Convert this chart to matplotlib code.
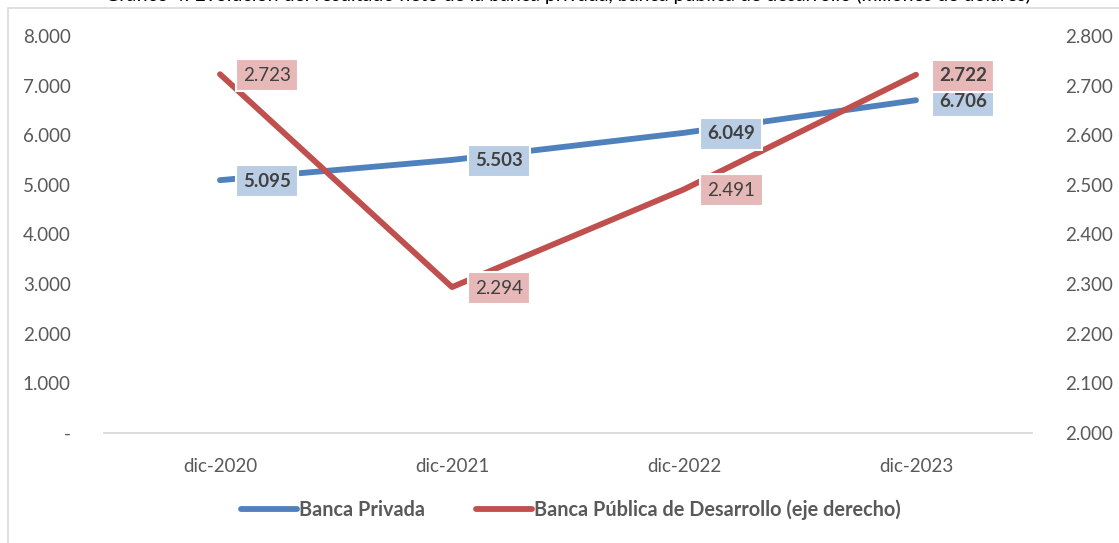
import matplotlib.pyplot as plt
from matplotlib.patches import Rectangle
from matplotlib.ticker import FuncFormatter

plt.rcParams["font.family"] = ["Lato", "DejaVu Sans"]

# Data
periods = ["dic-2020", "dic-2021", "dic-2022", "dic-2023"]
banca_privada = [5095, 5503, 6049, 6706]
banca_publica = [2723, 2294, 2491, 2722]
publica_bold = [False, False, False, True]

BLUE = "#4f81bd"
RED = "#c0504d"
BLUE_BOX = "#b9cde5"
RED_BOX = "#e6b9b8"
TEXT = "#595959"
LABEL_TEXT = "#404040"

W, H = 1119, 543


def fmt_thousands(v, _pos=None):
    if abs(v) < 1e-9:
        return "-"
    return f"{v:,.0f}".replace(",", ".")


fig = plt.figure(figsize=(W / 100, H / 100), dpi=100)

# chart frame (only top and left edges fall inside the picture)
fig.patches.append(Rectangle((8 / W, -0.1), 1.2, 1 - 8 / H + 0.1,
                             transform=fig.transFigure, fill=False,
                             edgecolor="#d9d9d9", linewidth=1.2))

# title, cut off at the top edge like in the source
fig.text(568 / W, 1 - 0.5 / H,
         "Gráfico 4: Evolución del resultado neto de la banca privada, "
         "banca pública de desarrollo (millones de dólares)",
         ha="center", va="baseline", fontsize=14, color="black")

ax = fig.add_axes([104 / W, 1 - 433 / H, 928 / W, 397 / H])
ax2 = ax.twinx()

x = list(range(len(periods)))

ax.plot(x, banca_privada, color=BLUE, linewidth=4.2, solid_capstyle="round",
        label="Banca Privada")
ax2.plot(x, banca_publica, color=RED, linewidth=4.2, solid_capstyle="round",
         label="Banca Pública de Desarrollo (eje derecho)")

ax.set_xlim(-0.5, len(periods) - 0.5)
ax.set_ylim(0, 8000)
ax.set_yticks(range(0, 8001, 1000))
ax2.set_ylim(2000, 2800)
ax2.set_yticks(range(2000, 2801, 100))
ax.yaxis.set_major_formatter(FuncFormatter(fmt_thousands))
ax2.yaxis.set_major_formatter(FuncFormatter(fmt_thousands))

ax.set_xticks(x)
ax.set_xticklabels(periods)

for a in (ax, ax2):
    for side in ("top", "left", "right", "bottom"):
        a.spines[side].set_visible(False)
    a.tick_params(length=0, labelsize=13.5, colors=TEXT)
ax.spines["bottom"].set_visible(True)
ax.spines["bottom"].set_color("#d9d9d9")
ax.spines["bottom"].set_linewidth(1.3)
ax.tick_params(axis="x", pad=18)
ax.tick_params(axis="y", pad=24)
ax2.tick_params(axis="y", pad=24)

# data labels, drawn on the top axes so they cover both lines
for xi, v in zip(x, banca_privada):
    ax2.annotate(fmt_thousands(v), xy=(xi, v), xycoords=ax.transData,
                 xytext=(47, -1), textcoords="offset pixels",
                 ha="center", va="center", fontsize=13.5, fontweight="bold",
                 color=LABEL_TEXT, zorder=5,
                 bbox=dict(boxstyle="square,pad=0.4", facecolor=BLUE_BOX,
                           edgecolor="white", linewidth=1.5))
for xi, v, b in zip(x, banca_publica, publica_bold):
    ax2.annotate(fmt_thousands(v), xy=(xi, v), xycoords=ax2.transData,
                 xytext=(47, -1), textcoords="offset pixels",
                 ha="center", va="center", fontsize=13.5,
                 fontweight="bold" if b else "normal",
                 color=LABEL_TEXT, zorder=5,
                 bbox=dict(boxstyle="square,pad=0.4", facecolor=RED_BOX,
                           edgecolor="white", linewidth=1.5))

handles = ax.get_lines() + ax2.get_lines()
leg = fig.legend(handles, [h.get_label() for h in handles],
                 loc="center", bbox_to_anchor=(571 / W, 1 - 510 / H),
                 ncol=2, frameon=False, handlelength=2.8, handletextpad=0.1,
                 columnspacing=2.6, prop={"size": 14.3, "weight": "bold"})
for t in leg.get_texts():
    t.set_color(TEXT)

fig.savefig("out.png", dpi=100)
